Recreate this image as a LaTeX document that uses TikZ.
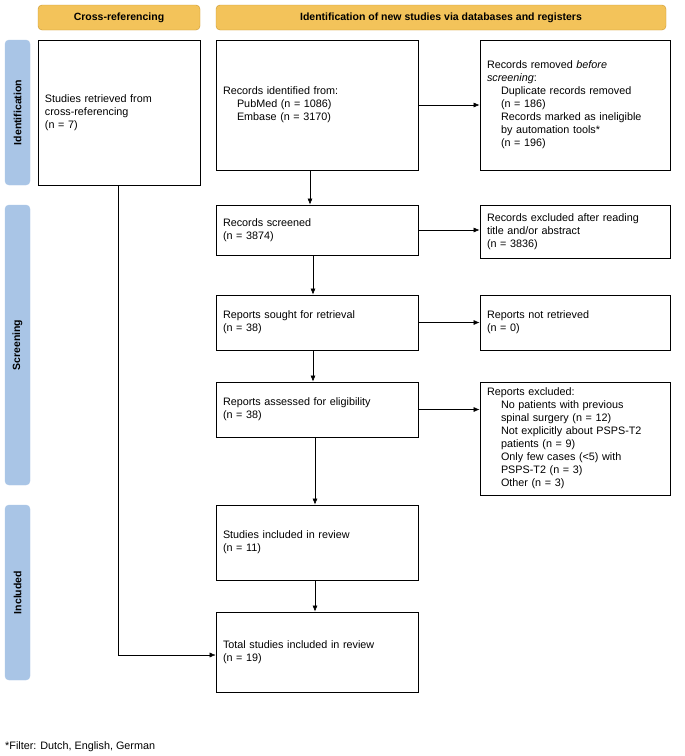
\documentclass[tikz,border=0pt]{standalone}
\usepackage{fontspec}
\setmainfont{Liberation Sans}
\usetikzlibrary{arrows.meta}
\definecolor{hdr}{HTML}{F3C35A}
\definecolor{hdrline}{HTML}{C9962E}
\definecolor{side}{HTML}{A9C5E6}
\tikzset{
  box/.style={draw, thick, align=left, inner sep=0pt},
  head/.style={draw=hdrline, fill=hdr, rounded corners=4pt, font=\fontsize{10.5}{12}\selectfont\bfseries},
  phase/.style={draw=side, fill=side, rounded corners=4pt, font=\fontsize{10.5}{12}\selectfont\bfseries, rotate=90},
  arr/.style={-{Latex[length=6pt,width=5pt]}, semithick}
}
% box between (x1,y1) and (x2,y2), text left aligned
\newcommand{\flowbox}[6]{%
  \node[box, minimum width={#4-#2}, minimum height={#5-#3}, text width={#4-#2-14}]
    (#1) at ({(#2+#4)/2},{(#3+#5)/2}) {#6};}
\newcommand{\ind}{\hspace*{1.3em}}
\begin{document}
\begin{tikzpicture}[x=1pt, y=-1pt, font=\fontsize{10.8}{13}\selectfont]
\useasboundingbox (0,0) rectangle (685,756);

\node[head, minimum width=162, minimum height=25] (hcr) at (119,17.5) {Cross-referencing};
\node[head, minimum width=450, minimum height=25] (hdb) at (441,17.5) {Identification of new studies via databases and registers};

\node[phase, minimum width=145, minimum height=25] (pid) at (17.5,112.5) {Identification};
\node[phase, minimum width=280, minimum height=25] (psc) at (17.5,345) {Screening};
\node[phase, minimum width=175, minimum height=25] (pin) at (17.5,592.5) {Included};

\flowbox{cross}{38}{40}{200}{185}{Studies retrieved from\\cross-referencing\\(n = 7)}
\flowbox{ident}{216}{40}{418}{170}{Records identified from:\\\ind PubMed (n = 1086)\\\ind Embase (n = 3170)}
\flowbox{remov}{480}{40}{670}{170}{Records removed \textit{before}\\\textit{screening}:\\\ind Duplicate records removed\\\ind (n = 186)\\\ind Records marked as ineligible\\\ind by automation tools*\\\ind (n = 196)}
\flowbox{screen}{216}{205}{418}{255}{Records screened\\(n = 3874)}
\flowbox{exclA}{480}{205}{670}{258}{Records excluded after reading\\title and/or abstract\\(n = 3836)}
\flowbox{sought}{216}{295}{418}{350}{Reports sought for retrieval\\(n = 38)}
\flowbox{notret}{480}{295}{670}{350}{Reports not retrieved\\(n = 0)}
\flowbox{assess}{216}{382}{418}{437}{Reports assessed for eligibility\\(n = 38)}
\flowbox{exclB}{480}{382}{670}{495}{Reports excluded:\\\ind No patients with previous\\\ind spinal surgery (n = 12)\\\ind Not explicitly about PSPS-T2\\\ind patients (n = 9)\\\ind Only few cases (<5) with\\\ind PSPS-T2 (n = 3)\\\ind Other (n = 3)}
\flowbox{incl}{216}{505}{418}{580}{Studies included in review\\(n = 11)}
\flowbox{total}{216}{612}{418}{692}{Total studies included in review\\(n = 19)}

\coordinate (bend) at (118,655);

\draw[arr] (ident.south -| 310,0) -- (screen.north -| 310,0);
\draw[arr] (screen.south -| 313,0) -- (sought.north -| 313,0);
\draw[arr] (sought.south -| 313,0) -- (assess.north -| 313,0);
\draw[arr] (assess.south -| 315,0) -- (incl.north -| 315,0);
\draw[arr] (incl.south -| 315,0) -- (total.north -| 315,0);

\draw[arr] (ident.east) -- (ident.east -| remov.west);
\draw[arr] (screen.east) -- (screen.east -| exclA.west);
\draw[arr] (sought.east) -- (sought.east -| notret.west);
\draw[arr] (assess.east) -- (assess.east -| exclB.west);

\draw[arr, thin] (cross.south -| bend) -- (bend) -- (bend -| total.west);

\node[anchor=south west, inner sep=0pt] (foot) at (5,752) {*Filter: Dutch, English, German};
\end{tikzpicture}
\end{document}
